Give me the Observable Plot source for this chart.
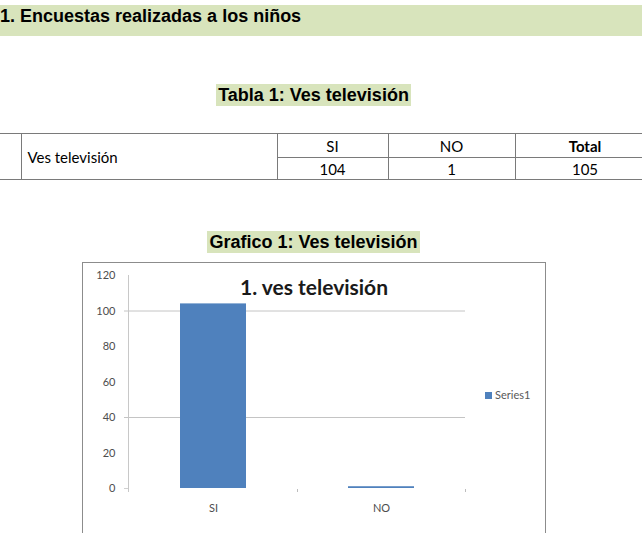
<!DOCTYPE html>
<html>
<head>
<meta charset="utf-8">
<script src="https://cdn.jsdelivr.net/npm/d3@7"></script>
<script src="https://cdn.jsdelivr.net/npm/@observablehq/plot@0.6"></script>
<style>
  html, body { margin: 0; padding: 0; background: #fff; }
  body { position: relative; width: 642px; height: 533px; overflow: hidden; }
  .narrow { font-family: "Liberation Sans Narrow", "Liberation Sans", Arial, sans-serif; font-weight: bold; font-size: 18px; color: #000; }
  #header { position: absolute; left: 0; top: 5px; width: 642px; height: 31px; background: #d8e4bc; }
  #headerText { position: absolute; left: 0; top: 7px; line-height: 18px; white-space: nowrap; }
  .caption { position: absolute; left: 0; width: 627px; text-align: center; }
  .caption span { display: inline-block; background: #d8e4bc; height: 22px; line-height: 22px; padding: 0 2px; white-space: nowrap; }
  #tbl { position: absolute; left: 0; top: 133px; border-collapse: collapse; table-layout: fixed; width: 655px;
         font-family: Lato, "Open Sans", sans-serif; font-size: 15px; color: #000; }
  #tbl td { border: 1px solid #7a7a7a; padding: 0; text-align: center; }
  #box { position: absolute; left: 82px; top: 262px; width: 462px; height: 290px; border: 1px solid #8c8c8c; }
  #legend { position: absolute; left: 485px; top: 388px; font-family: Lato, sans-serif; font-size: 11px; color: #595959; white-space: nowrap; }
  #legend i { display: inline-block; width: 7px; height: 7px; background: #4f81bd; margin-right: 3px; vertical-align: 0px; }
</style>
</head>
<body>
<div id="header"></div>
<div id="headerText" class="narrow"></div>
<div id="tablaCap" class="caption narrow" style="top:84px"><span></span></div>
<table id="tbl"></table>
<div id="grafCap" class="caption narrow" style="top:231px"><span></span></div>
<div id="box"></div>
<div id="legend"></div>
<script>
// ---- data ----
const sectionNumber = "1.";
const sectionTitle = "Encuestas realizadas a los niños";
const tableCaption = "Tabla 1: Ves televisión";
const chartCaption = "Grafico 1: Ves televisión";
const tableRowLabel = "Ves televisión";
const tableHeaders = ["SI", "NO", "Total"];
const tableValues = [104, 1, 105];
const chartTitle = "1. ves televisión";
const categories = ["SI", "NO"];
const values = [104, 1];
const seriesName = "Series1";
const yTicks = [0, 20, 40, 60, 80, 100, 120];
const visibleGridlines = [40, 100];

// ---- header & captions ----
document.getElementById("headerText").innerHTML =
  `<span>${sectionNumber}</span><span style="margin-left:5px">${sectionTitle}</span>`;
document.querySelector("#tablaCap span").textContent = tableCaption;
document.querySelector("#grafCap span").textContent = chartCaption;

// ---- table ----
const tbl = document.getElementById("tbl");
const colWidths = [21, 256, 111, 127, 140];
const cg = document.createElement("colgroup");
colWidths.forEach(w => { const c = document.createElement("col"); c.style.width = w + "px"; cg.appendChild(c); });
tbl.appendChild(cg);
const r1 = tbl.insertRow(); r1.style.height = "24px";
const r2 = tbl.insertRow(); r2.style.height = "22px";
const c0 = r1.insertCell(); c0.rowSpan = 2; c0.style.borderLeft = "none";
const c1 = r1.insertCell(); c1.rowSpan = 2; c1.textContent = tableRowLabel; c1.style.textAlign = "left"; c1.style.paddingLeft = "6px";
tableHeaders.forEach((h, i) => { const c = r1.insertCell(); c.textContent = h; if (i === tableHeaders.length - 1) c.style.fontWeight = "bold"; });
tableValues.forEach(v => { const c = r2.insertCell(); c.textContent = v; });

// ---- chart ----
const data = categories.map((c, i) => ({cat: c, value: values[i]}));
const blue = "#4f81bd";

const decorations = (index, scales, vals, dims) => {
  const {x, y} = scales;
  const bw = typeof x.bandwidth === "function" ? x.bandwidth() : x.bandwidth;
  const step = typeof x.step === "function" ? x.step() : x.step;
  const g = d3.create("svg:g");
  const y0 = y(0);
  g.append("line")
    .attr("x1", dims.marginLeft + 0.5).attr("x2", dims.marginLeft + 0.5)
    .attr("y1", y(120)).attr("y2", y0 + 4)
    .attr("stroke", "#c8c8c8");
  g.append("line")
    .attr("x1", dims.marginLeft - 4).attr("x2", dims.marginLeft)
    .attr("y1", y0 + 0.5).attr("y2", y0 + 0.5)
    .attr("stroke", "#d0d0d0");
  categories.forEach(c => {
    const bx = Math.round(x(c) + bw / 2 + step / 2) + 0.5;
    g.append("line").attr("x1", bx).attr("x2", bx).attr("y1", y0 + 1).attr("y2", y0 + 4).attr("stroke", "#bdbdbd");
  });
  return g.node();
};

const chart = Plot.plot({
  width: 462,
  height: 270,
  marginLeft: 45,
  marginRight: 80,
  marginTop: 12,
  marginBottom: 45,
  style: {fontFamily: "Lato, 'Open Sans', sans-serif", fontSize: "11px", color: "#4d4d4d", background: "transparent"},
  x: {domain: categories, paddingInner: 0.61, paddingOuter: 0.305, label: null},
  y: {domain: [0, 120], ticks: yTicks, label: null},
  marks: [
    Plot.ruleY(visibleGridlines, {stroke: "#c4c4c4", strokeWidth: 1, insetLeft: -4}),
    Plot.barY(data, {x: "cat", y: "value", fill: blue}),
    decorations,
    Plot.axisY({ticks: yTicks, tickSize: 0, tickPadding: 13, label: null, fill: "#4d4d4d"}),
    Plot.axisX({tickSize: 0, tickPadding: 16, label: null, fill: "#4d4d4d"}),
    Plot.text([chartTitle], {frameAnchor: "top", dx: 17, dy: 5, fontSize: 21, fontWeight: "bold", fill: "#1a1a1a", fontFamily: "Lato, sans-serif"})
  ]
});
document.getElementById("box").appendChild(chart);

document.getElementById("legend").innerHTML = `<i></i>${seriesName}`;
</script>
</body>
</html>
